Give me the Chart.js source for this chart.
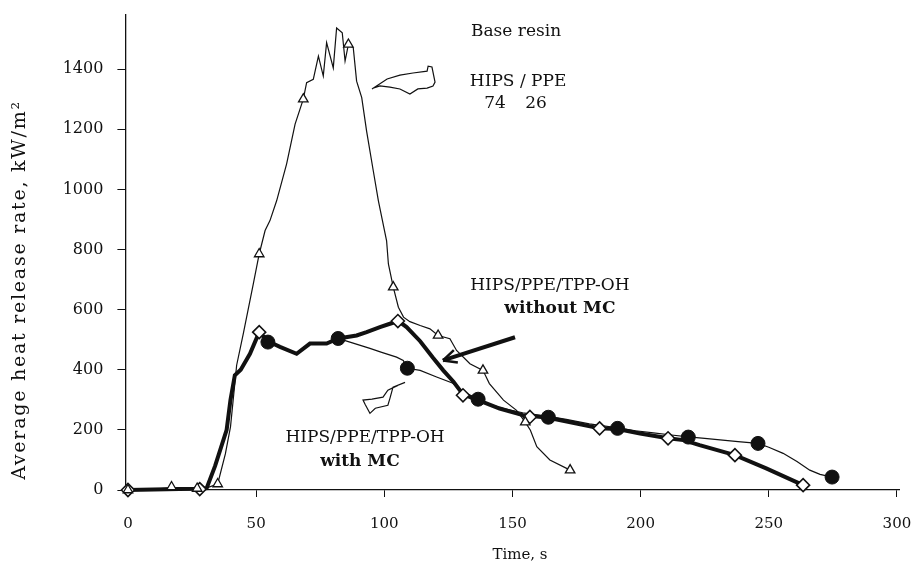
<!DOCTYPE html>
<html>
<head>
<meta charset="utf-8">
<script src="https://cdn.jsdelivr.net/npm/chart.js@4.4.1/dist/chart.umd.min.js"></script>
<style>
  html, body { margin: 0; padding: 0; background: #fff; }
  #wrap { width: 911px; height: 574px; }
</style>
</head>
<body>
<div id="wrap"><canvas id="hrr" width="911" height="574"></canvas></div>
<script>
// tick labels
const xTicks = [0, 50, 100, 150, 200, 250, 300];
const yTicks = [0, 200, 400, 600, 800, 1000, 1200, 1400];

// Base resin HIPS/PPE 74/26 (thin line, open triangles)
const baseTime = [0, 10, 17, 22, 27, 31, 35, 38, 40, 42.4, 45, 48.9, 51.2, 53.5, 55.4, 58, 61.9, 65.2, 68.4, 69.7,
  72.3, 74.3, 76.2, 77.5, 80.1, 81.4, 83.6, 84.7, 86, 87.9, 89.2, 91.2, 93.1, 95.7, 97.7, 100.9, 101.6, 103.5,
  105.5, 107.5, 110, 114, 117.8, 121, 125.6, 128.2, 133.4, 138.5, 141, 146.5, 151.6, 155, 157, 159.5, 164.6, 172.5];
const baseHRR = [0, 3, 7, 5, 5, 8, 20, 120, 210, 415, 520, 686, 785, 863, 896, 962, 1085, 1217, 1300, 1355,
  1366, 1443, 1377, 1488, 1404, 1537, 1521, 1427, 1482, 1471, 1360, 1305, 1194, 1062, 962, 829, 752, 675,
  608, 575, 560, 547, 536, 514, 503, 464, 420, 398, 354, 299, 265, 226, 199, 144, 100, 66];
const baseMarkTime = [0, 17, 27, 35, 51.2, 68.4, 86, 103.5, 121, 138.5, 155, 172.5];
const baseMarkHRR = [0, 10, 5, 20, 785, 1300, 1482, 675, 514, 398, 226, 66];

// HIPS/PPE/TPP-OH with MC (thin line, filled circles)
const withTime = [0, 10, 20, 28, 30.7, 34, 38.5, 40.5, 41.7, 44, 47.6, 51.2, 54.6, 59.3, 65.8, 71, 77.5, 82, 86.6,
  94.4, 99, 104.8, 107.4, 109, 114, 120.4, 126.8, 130.7, 136.6, 141, 147, 154, 164, 171, 180, 191, 198, 205,
  212, 218.6, 225, 231, 238, 245.8, 250, 255.6, 261, 266, 270, 274.7];
const withHRR = [0, 2, 3, 5, 6, 80, 200, 330, 382, 405, 453, 520, 492, 476, 453, 487, 487, 504, 492,
  471, 458, 442, 431, 405, 398, 376, 355, 325, 305, 285, 270, 257, 245, 235, 220, 207, 197, 190,
  183, 177, 172, 167, 161, 155, 142, 122, 95, 66, 52, 43];
const withMarkTime = [54.6, 82, 109, 136.6, 164, 191, 218.6, 245.8, 274.7];
const withMarkHRR = [492, 504, 405, 302, 242, 205, 176, 155, 43];

// HIPS/PPE/TPP-OH without MC (thick line, open diamonds)
const withoutTime = [0, 10, 20, 28, 30.7, 34, 38.5, 40, 41.7, 44, 47.6, 51.2, 54.6, 59.3, 65.8, 71, 77.5, 82,
  89.2, 93.1, 98.3, 102.2, 105.5, 108.7, 114, 119, 123, 127, 130.7, 136.6, 145, 154, 164, 175, 184, 191,
  199.8, 210.7, 216.7, 223, 236.8, 249, 263.4];
const withoutHRR = [0, 2, 3, 4, 6, 80, 200, 300, 382, 400, 453, 525, 495, 476, 453, 487, 487, 504,
  514, 525, 542, 553, 562, 542, 495, 440, 398, 360, 318, 299, 271, 249, 240, 221, 205, 203,
  188, 172, 166, 149, 116, 72, 16];
const withoutMarkTime = [0, 28, 51.2, 105.3, 130.7, 156.8, 184, 210.7, 236.8, 263.4];
const withoutMarkHRR = [0, 3, 525, 562, 315, 243, 205, 172, 116, 16];

const zip = (xs, ys) => xs.map((x, i) => ({ x: x, y: ys[i] }));

const INK = '#111';
const SERIF = '"DejaVu Serif", "Liberation Serif", serif';

// text and pointer annotations, placed in data units
const notes = [
  { text: 'Base resin', x: 151.4, y: 1526, bold: false },
  { text: 'HIPS / PPE', x: 152.2, y: 1357, bold: false },
  { text: '74', x: 143.2, y: 1287, bold: false },
  { text: '26', x: 159.2, y: 1287, bold: false },
  { text: 'HIPS/PPE/TPP-OH', x: 164.6, y: 680, bold: false },
  { text: 'without MC', x: 168.5, y: 604, bold: true },
  { text: 'HIPS/PPE/TPP-OH', x: 92.5, y: 173, bold: false },
  { text: 'with MC', x: 90.5, y: 93, bold: true }
];
const basePointer = [[95.2, 1334], [101.1, 1367], [106.1, 1380], [111.2, 1387], [116.7, 1393], [117.1, 1410],
  [118.6, 1407], [119.8, 1357], [119.0, 1344], [116.7, 1337], [113.1, 1334], [110.0, 1317], [106.1, 1334],
  [102.2, 1340], [98.3, 1344], [95.6, 1337]];
const withPointer = [[108.1, 358], [103.4, 342], [102.2, 305], [101.4, 282], [96.5, 272], [94.4, 255],
  [92.5, 285], [91.7, 299], [95.2, 302], [99.5, 309], [101.4, 332], [105.3, 348]];
const withoutArrow = [[151, 508], [122.9, 431]];

const notesPlugin = {
  id: 'notes',
  afterDatasetsDraw(chart) {
    const { ctx, scales: { x, y } } = chart;
    const px = p => [x.getPixelForValue(p[0]), y.getPixelForValue(p[1])];
    ctx.save();
    ctx.strokeStyle = INK;
    ctx.fillStyle = INK;

    // squiggly pointers
    ctx.lineWidth = 1.2;
    [basePointer, withPointer].forEach(path => {
      ctx.beginPath();
      path.forEach((p, i) => {
        const [a, b] = px(p);
        if (i === 0) ctx.moveTo(a, b); else ctx.lineTo(a, b);
      });
      ctx.stroke();
    });

    // thick arrow
    const [t0, t1] = [px(withoutArrow[0]), px(withoutArrow[1])];
    ctx.lineWidth = 4;
    ctx.beginPath();
    ctx.moveTo(t0[0], t0[1]);
    ctx.lineTo(t1[0], t1[1]);
    ctx.stroke();
    const ang = Math.atan2(t1[1] - t0[1], t1[0] - t0[0]);
    ctx.lineWidth = 2.5;
    ctx.beginPath();
    [0.45, -0.45].forEach(d => {
      ctx.moveTo(t1[0], t1[1]);
      ctx.lineTo(t1[0] - 15 * Math.cos(ang + d), t1[1] - 15 * Math.sin(ang + d));
    });
    ctx.stroke();

    // labels
    ctx.textAlign = 'center';
    ctx.textBaseline = 'middle';
    notes.forEach(n => {
      ctx.font = (n.bold ? 'bold ' : '') + '17px ' + SERIF;
      const [a, b] = px([n.x, n.y]);
      ctx.fillText(n.text, a, b);
    });

    // axis titles
    ctx.font = '15px ' + SERIF;
    ctx.fillText('Time, s', 520, 555);
    ctx.translate(20, 290);
    ctx.rotate(-Math.PI / 2);
    ctx.font = '19px ' + SERIF;
    const title = 'Average heat release rate, kW/m\u00B2';
    const w = ctx.measureText(title).width;
    ctx.letterSpacing = Math.max(0, (378 - w) / (title.length - 1)).toFixed(2) + 'px';
    ctx.fillText(title, 0, 0);
    ctx.restore();
  }
};

const lineStyle = (w) => ({
  showLine: true, borderColor: INK, borderWidth: w, pointRadius: 0,
  tension: 0, fill: false, clip: false
});

new Chart(document.getElementById('hrr'), {
  type: 'scatter',
  data: {
    datasets: [
      { label: 'Base resin marks', data: zip(baseMarkTime, baseMarkHRR), order: 0, clip: false,
        pointStyle: 'triangle', pointRadius: 5.5, pointBackgroundColor: '#fff', pointBorderColor: INK, pointBorderWidth: 1.3 },
      { label: 'with MC marks', data: zip(withMarkTime, withMarkHRR), order: 0, clip: false,
        pointStyle: 'circle', pointRadius: 7, pointBackgroundColor: INK, pointBorderColor: INK, pointBorderWidth: 1 },
      { label: 'without MC marks', data: zip(withoutMarkTime, withoutMarkHRR), order: 0, clip: false,
        pointStyle: 'rectRot', pointRadius: 6.5, pointBackgroundColor: '#fff', pointBorderColor: INK, pointBorderWidth: 1.6 },
      Object.assign({ label: 'without MC', data: zip(withoutTime, withoutHRR), order: 1 }, lineStyle(4)),
      Object.assign({ label: 'with MC', data: zip(withTime, withHRR), order: 2 }, lineStyle(1.2)),
      Object.assign({ label: 'Base resin', data: zip(baseTime, baseHRR), order: 2 }, lineStyle(1.2))
    ]
  },
  options: {
    responsive: false,
    animation: false,
    devicePixelRatio: 1,
    layout: { padding: { left: 0, right: 11.5, top: 15, bottom: 0 } },
    plugins: { legend: { display: false }, tooltip: { enabled: false } },
    scales: {
      x: {
        type: 'linear', min: -1, max: 301,
        afterBuildTicks: s => { s.ticks = xTicks.map(v => ({ value: v })); },
        afterFit: s => { s.height = 84; s.paddingLeft = 0; s.paddingRight = 0; },
        border: { color: INK, width: 1.3 },
        grid: { drawOnChartArea: false, tickLength: 7, tickColor: INK, tickWidth: 1 },
        ticks: { color: INK, padding: 18, font: { family: SERIF, size: 15 }, maxRotation: 0,
          callback: v => String(v) }
      },
      y: {
        type: 'linear', min: 0, max: 1580,
        afterBuildTicks: s => { s.ticks = yTicks.map(v => ({ value: v })); },
        afterFit: s => { s.width = 125.4; s.paddingTop = 0; s.paddingBottom = 0; },
        border: { color: INK, width: 1.3 },
        grid: { drawOnChartArea: false, tickLength: 8, tickColor: INK, tickWidth: 1 },
        ticks: { color: INK, padding: 14, font: { family: SERIF, size: 16 },
          callback: v => String(v) }
      }
    }
  },
  plugins: [notesPlugin]
});
</script>
</body>
</html>
